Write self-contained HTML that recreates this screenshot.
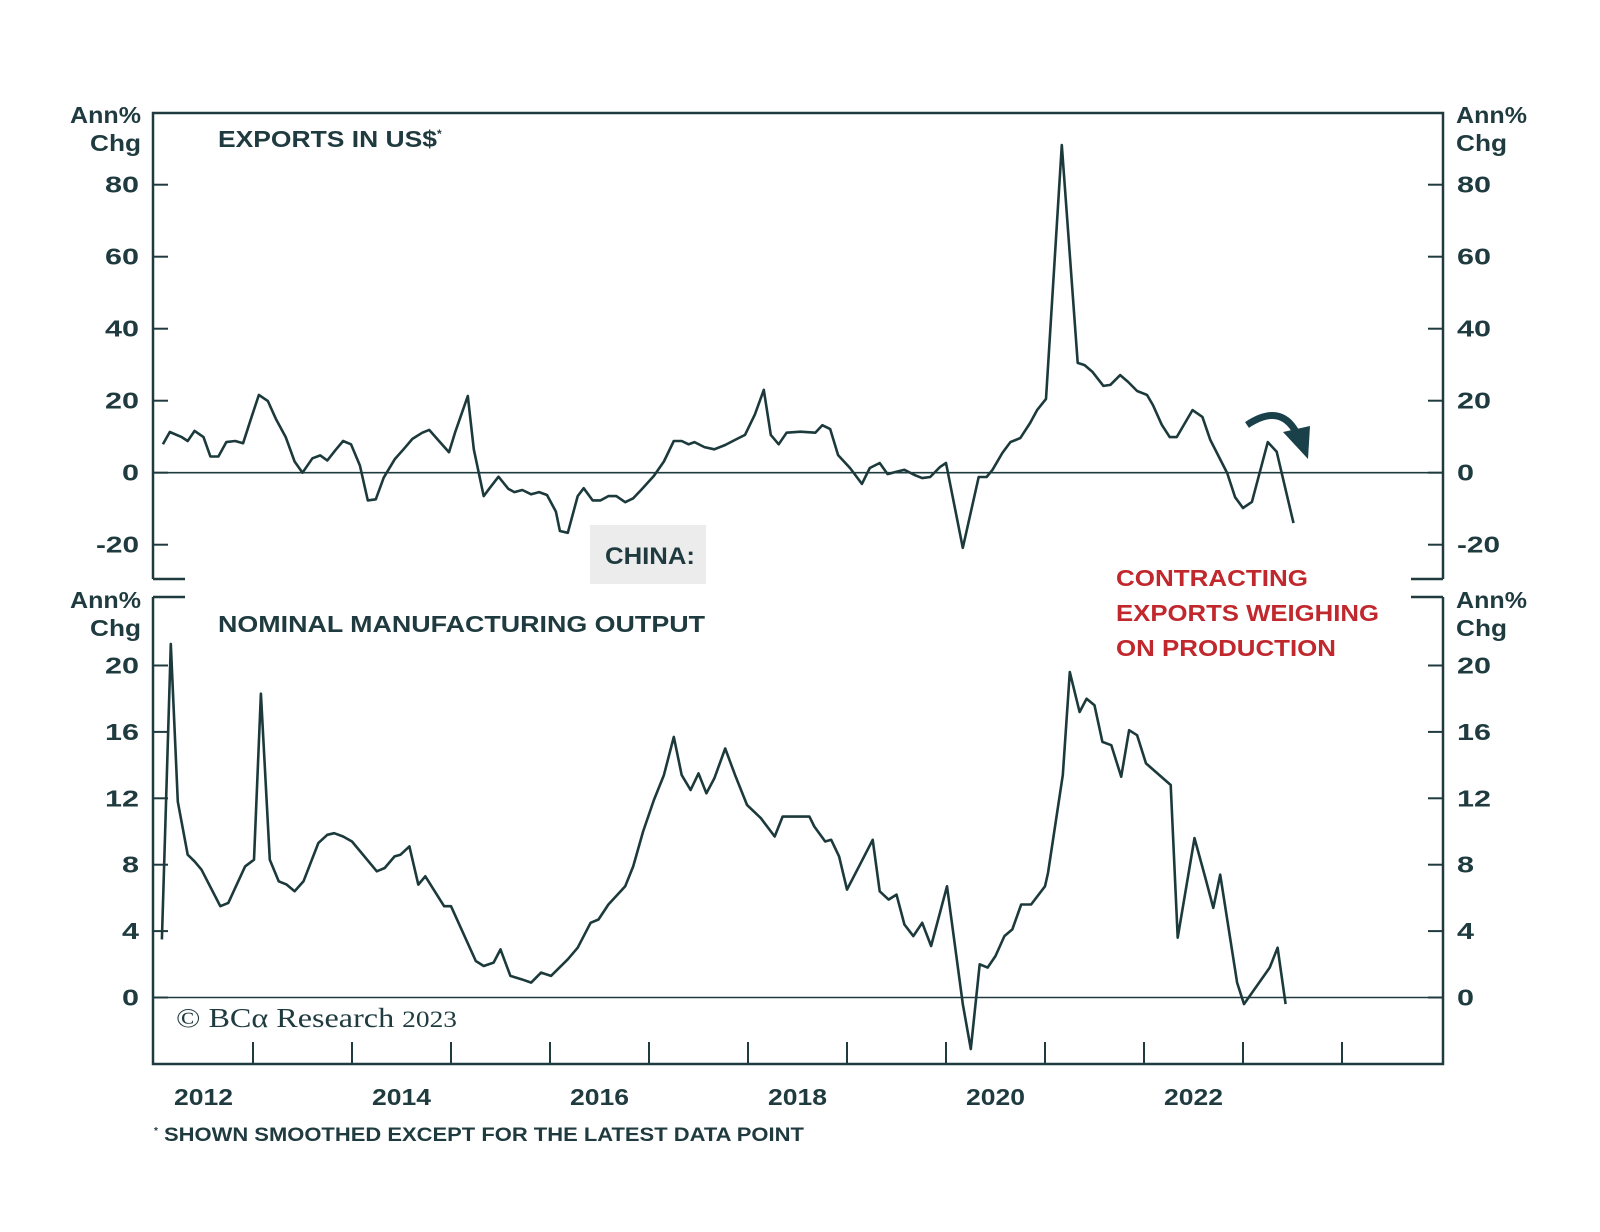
<!DOCTYPE html>
<html><head><meta charset="utf-8">
<style>
html,body{margin:0;padding:0;background:#fff;}
svg{display:block;font-family:"Liberation Sans",sans-serif;}
</style></head>
<body>
<svg id="chart" width="1600" height="1232" viewBox="0 0 1600 1232" xmlns="http://www.w3.org/2000/svg">
<g id="frame"></g>
<g id="axes"></g>
<g id="series"></g>
<rect x="590" y="525" width="116" height="59" fill="#ececec"/>
<text x="605" y="564" textLength="90" lengthAdjust="spacingAndGlyphs" font-size="24" font-weight="bold" fill="#1f3b3f">CHINA:</text>
<text x="218" y="147" font-size="23" font-weight="bold" fill="#1f3b3f"><tspan textLength="219" lengthAdjust="spacingAndGlyphs">EXPORTS IN US$</tspan><tspan font-size="12" dy="-9">*</tspan></text>
<text x="218" y="632" textLength="487" lengthAdjust="spacingAndGlyphs" font-size="23" font-weight="bold" fill="#1f3b3f">NOMINAL MANUFACTURING OUTPUT</text>
<g font-size="23" font-weight="bold" fill="#c0282d">
<text x="1116" y="586" textLength="192" lengthAdjust="spacingAndGlyphs">CONTRACTING</text>
<text x="1116" y="621" textLength="263" lengthAdjust="spacingAndGlyphs">EXPORTS WEIGHING</text>
<text x="1116" y="656" textLength="220" lengthAdjust="spacingAndGlyphs">ON PRODUCTION</text>
</g>
<g>
<path d="M1247,425 Q1280,403 1296,432" fill="none" stroke="#1a4149" stroke-width="7"/>
<polygon points="1283,432 1310,426 1308,459" fill="#1a4149"/>
</g>
<text x="176" y="1027" textLength="281" lengthAdjust="spacingAndGlyphs" font-family="'Liberation Serif',serif" font-size="27" fill="#1f3b3f">© BCα Research <tspan font-size="23">2023</tspan></text>
<text x="154" y="1141" font-size="19" font-weight="bold" fill="#1f3b3f"><tspan font-size="10" dy="-7">*</tspan><tspan dy="7" textLength="646" lengthAdjust="spacingAndGlyphs"> SHOWN SMOOTHED EXCEPT FOR THE LATEST DATA POINT</tspan></text>
</svg>
<script>
const exportDates=[2012.09,2012.16,2012.28,2012.34,2012.41,2012.50,2012.57,2012.65,2012.73,2012.82,2012.90,2012.98,2013.06,2013.15,2013.23,2013.33,2013.42,2013.50,2013.60,2013.68,2013.75,2013.83,2013.91,2013.99,2014.08,2014.16,2014.24,2014.32,2014.43,2014.53,2014.61,2014.71,2014.78,2014.86,2014.98,2015.04,2015.17,2015.23,2015.33,2015.39,2015.48,2015.58,2015.64,2015.72,2015.81,2015.89,2015.97,2016.06,2016.10,2016.18,2016.28,2016.34,2016.43,2016.51,2016.59,2016.67,2016.76,2016.84,2016.92,2017.05,2017.15,2017.25,2017.33,2017.40,2017.46,2017.56,2017.66,2017.77,2017.87,2017.97,2018.07,2018.16,2018.23,2018.31,2018.39,2018.53,2018.68,2018.75,2018.83,2018.91,2019.03,2019.15,2019.23,2019.33,2019.41,2019.49,2019.58,2019.68,2019.76,2019.84,2019.94,2020.00,2020.17,2020.33,2020.41,2020.47,2020.57,2020.65,2020.75,2020.85,2020.92,2021.01,2021.17,2021.33,2021.40,2021.48,2021.59,2021.66,2021.76,2021.84,2021.93,2022.03,2022.09,2022.18,2022.26,2022.33,2022.49,2022.59,2022.67,2022.84,2022.92,2023.00,2023.09,2023.25,2023.34,2023.51];
const exportValues=[7.9,11.3,9.9,8.8,11.6,9.9,4.5,4.5,8.5,8.8,8.2,15.0,21.6,19.9,15.0,9.9,3.1,0,4.0,4.8,3.4,6.2,8.8,7.9,2.0,-7.7,-7.4,-1.4,3.7,6.8,9.4,11.1,11.9,9.4,5.7,11.1,21.3,6.5,-6.5,-4.3,-1.1,-4.5,-5.4,-4.8,-6.0,-5.4,-6.2,-10.8,-16.2,-16.7,-6.5,-4.3,-7.7,-7.7,-6.5,-6.5,-8.2,-7.1,-4.8,-0.9,3.1,8.8,8.8,7.9,8.5,7.1,6.5,7.7,9.1,10.5,16.2,23.0,10.5,7.9,11.1,11.4,11.1,13.2,12.1,4.9,1.3,-3.1,1.3,2.7,-0.4,0.2,0.8,-0.6,-1.5,-1.2,1.6,2.7,-20.9,-1.2,-1.2,0.8,5.5,8.5,9.6,13.8,17.4,20.5,91,30.5,29.9,28.0,24.1,24.4,27.1,25.2,22.7,21.6,18.8,13.3,9.9,9.9,17.4,15.5,9.1,-0.1,-6.8,-9.8,-8.1,8.5,5.8,-14.0];
const mfgDates=[2012.08,2012.17,2012.24,2012.34,2012.41,2012.48,2012.67,2012.75,2012.92,2013.01,2013.08,2013.17,2013.26,2013.34,2013.42,2013.51,2013.66,2013.75,2013.82,2013.91,2014.00,2014.25,2014.33,2014.43,2014.49,2014.58,2014.67,2014.74,2014.93,2015.00,2015.25,2015.33,2015.43,2015.50,2015.60,2015.71,2015.81,2015.91,2016.01,2016.18,2016.28,2016.41,2016.49,2016.59,2016.76,2016.84,2016.94,2017.05,2017.15,2017.25,2017.33,2017.42,2017.50,2017.58,2017.66,2017.77,2017.87,2017.99,2018.13,2018.27,2018.35,2018.49,2018.62,2018.67,2018.78,2018.84,2018.92,2019.00,2019.13,2019.26,2019.33,2019.42,2019.50,2019.58,2019.67,2019.76,2019.85,2020.01,2020.17,2020.25,2020.34,2020.42,2020.50,2020.59,2020.67,2020.76,2020.86,2021.00,2021.03,2021.18,2021.25,2021.35,2021.42,2021.50,2021.58,2021.67,2021.77,2021.85,2021.93,2022.02,2022.27,2022.34,2022.51,2022.62,2022.70,2022.77,2022.94,2023.01,2023.27,2023.35,2023.43];
const mfgValues=[3.5,21.3,11.8,8.6,8.2,7.7,5.5,5.7,7.9,8.3,18.3,8.3,7.0,6.8,6.4,7.0,9.3,9.8,9.9,9.7,9.4,7.6,7.8,8.5,8.6,9.1,6.8,7.3,5.5,5.5,2.2,1.9,2.1,2.9,1.3,1.1,0.9,1.5,1.3,2.3,3.0,4.5,4.7,5.6,6.7,7.9,10.0,11.9,13.4,15.7,13.4,12.5,13.5,12.3,13.2,15.0,13.4,11.6,10.8,9.7,10.9,10.9,10.9,10.3,9.4,9.5,8.5,6.5,8.0,9.5,6.4,5.9,6.2,4.4,3.7,4.5,3.1,6.7,-0.4,-3.1,2.0,1.8,2.5,3.7,4.1,5.6,5.6,6.7,7.5,13.4,19.6,17.2,18.0,17.6,15.4,15.2,13.3,16.1,15.8,14.1,12.8,3.6,9.6,7.2,5.4,7.4,0.9,-0.4,1.8,3.0,-0.4];
const topTicks=[-20,0,20,40,60,80];
const botTicks=[0,4,8,12,16,20];
const yearLabels=[2012,2014,2016,2018,2020,2022];
const yearTicks=[2013,2014,2015,2016,2017,2018,2019,2020,2021,2022,2023,2024];

const NS="http://www.w3.org/2000/svg";
const C="#1f3b3f";
const L=153,R=1443,TT=113,TB=579,BT=597,BB=1064;
function x(t){return 154+(t-2012)*99;}
function yTop(v){return 472.7-v*3.6;}
function yBot(v){return 997.5-v*16.6;}
function mk(tag,attrs,parent){const e=document.createElementNS(NS,tag);for(const k in attrs)e.setAttribute(k,attrs[k]);parent.appendChild(e);return e;}
const frame=document.getElementById('frame'),axes=document.getElementById('axes'),series=document.getElementById('series');

let fp=mk('path',{d:`M${L},${TB} L${L},${TT} L${R},${TT} L${R},${TB} M${L},${TB} L${L+32},${TB} M${R},${TB} L${R-32},${TB} M${L},${BT} L${L+32},${BT} M${R},${BT} L${R-32},${BT} M${L},${BT} L${L},${BB} L${R},${BB} L${R},${BT}`,fill:'none',stroke:C,'stroke-width':2.5},frame);



function zeroLine(y,name){const l=mk('line',{x1:L,x2:R,y1:y,y2:y,stroke:C,'stroke-width':1.6},axes);

}
zeroLine(yTop(0),'exports-zero-line');
zeroLine(yBot(0),'manufacturing-zero-line');

function lenOf(v){const s=String(v);let n=0;for(const c of s)n+=(c==='-'?9:17);return n;}
function yaxis(ticks,fy,prefix){
 ticks.forEach(v=>{const y=fy(v);
  const t1=mk('line',{x1:L,x2:L+15,y1:y,y2:y,stroke:C,'stroke-width':2},axes);
  
  
  const t2=mk('line',{x1:R-15,x2:R,y1:y,y2:y,stroke:C,'stroke-width':2},axes);
  
  
  const a=mk('text',{x:139,y:y+8,'text-anchor':'end','font-size':23,'font-weight':'bold',fill:C,textLength:lenOf(v),lengthAdjust:'spacingAndGlyphs'},axes);a.textContent=v;
  
  
  const b=mk('text',{x:1457,y:y+8,'font-size':23,'font-weight':'bold',fill:C,textLength:lenOf(v),lengthAdjust:'spacingAndGlyphs'},axes);b.textContent=v;
  
  
 });
}
yaxis(topTicks,yTop,'exports');
yaxis(botTicks,yBot,'manufacturing');

function unitLabel(xx,y,anchor,name){
 const g=mk('text',{x:xx,y:y,'text-anchor':anchor,'font-size':23,'font-weight':'bold',fill:C},axes);
 
 
 const s1=mk('tspan',{x:xx,dy:0,textLength:71,lengthAdjust:'spacingAndGlyphs'},g);s1.textContent='Ann%';
 const s2=mk('tspan',{x:xx,dy:28,textLength:51,lengthAdjust:'spacingAndGlyphs'},g);s2.textContent='Chg';
}
unitLabel(141,123,'end','exports-left-unit');
unitLabel(1456,123,'start','exports-right-unit');
unitLabel(141,608,'end','manufacturing-left-unit');
unitLabel(1456,608,'start','manufacturing-right-unit');

yearTicks.forEach(t=>{const l=mk('line',{x1:x(t),x2:x(t),y1:BB,y2:BB-22,stroke:C,'stroke-width':2},axes);
 
 });
yearLabels.forEach(t=>{const e=mk('text',{x:x(t+0.5),y:1105,'text-anchor':'middle','font-size':23,'font-weight':'bold',fill:C,textLength:59,lengthAdjust:'spacingAndGlyphs'},axes);e.textContent=t;
 
 });

function line(ds,vs,fy,name){
 const d=ds.map((t,i)=>(i?'L':'M')+x(t).toFixed(1)+','+fy(vs[i]).toFixed(1)).join(' ');
 const p=mk('path',{d:d,fill:'none',stroke:'#1c3a3c','stroke-width':2.6,'stroke-linejoin':'round'},series);
 
 
}
line(exportDates,exportValues,yTop,'exports-line');
line(mfgDates,mfgValues,yBot,'manufacturing-output-line');
</script>
</body></html>
